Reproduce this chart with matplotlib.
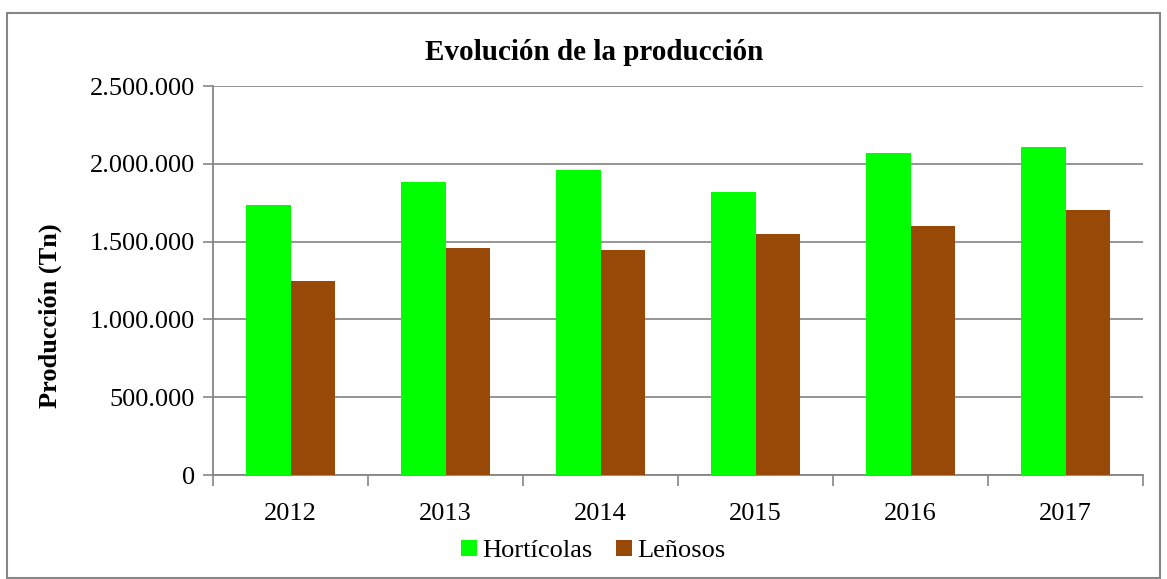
import matplotlib
matplotlib.use("Agg")
import matplotlib.pyplot as plt
from matplotlib.patches import Rectangle
from matplotlib.ticker import FuncFormatter, MultipleLocator
import numpy as np

years = ["2012", "2013", "2014", "2015", "2016", "2017"]
horticolas = [1733000, 1883000, 1963000, 1821000, 2072000, 2111000]
lenosos = [1246000, 1461000, 1448000, 1546000, 1602000, 1705000]

plt.rcParams['font.family'] = ['Liberation Serif', 'DejaVu Serif']

W, H = 1167, 579
fig = plt.figure(figsize=(W/100, H/100), dpi=100)
ax = fig.add_axes([213/W, 1-475/H, 930/W, 389/H])

x = np.arange(len(years))
bw = 0.285
ax.bar(x - bw/2, horticolas, bw, color='#00FF00', label='Hortícolas', zorder=3)
ax.bar(x + bw/2, lenosos, bw, color='#984807', label='Leñosos', zorder=3)

ax.set_xlim(-0.5, len(years) - 0.5)
ax.set_ylim(0, 2500000)
ax.yaxis.set_major_locator(MultipleLocator(500000))
ax.yaxis.set_major_formatter(FuncFormatter(lambda v, p: f"{int(v):,}".replace(",", ".")))
ax.set_xticks(x)
ax.set_xticklabels(years)
ax.set_xticks(np.arange(-0.5, len(years), 1), minor=True)
ax.tick_params(axis='x', which='major', length=0, labelsize=19, pad=20)
ax.tick_params(axis='x', which='minor', length=8, color='#868686', width=1.2, direction='out')
ax.tick_params(axis='y', length=7, color='#868686', width=1.2, direction='out', labelsize=19, pad=6)
ax.grid(axis='y', color='#8c8c8c', linewidth=1.3, zorder=0)
for s in ['top', 'right']:
    ax.spines[s].set_visible(False)
for s in ['left', 'bottom']:
    ax.spines[s].set_color('#868686')
    ax.spines[s].set_linewidth(1.3)

fig.text(50/W, 1-316/H, 'Producción (Tn)', fontsize=19, fontweight='bold',
         rotation=90, ha='center', va='center')
fig.text(594/W, 1-53/H, 'Evolución de la producción', fontsize=21, fontweight='bold',
         ha='center', va='center')

leg = fig.legend(loc='center', bbox_to_anchor=(593/W, 1-551/H), ncol=2, frameon=False,
                 prop={'family': 'Liberation Serif', 'size': 19},
                 handlelength=0.6, handleheight=0.6, handletextpad=0.2,
                 columnspacing=0.9)

fig.patches.append(Rectangle((7/W, 1-578/H), 1153/W, 565/H, transform=fig.transFigure,
                             fill=False, edgecolor='#868686', linewidth=1.5))

fig.savefig('out.png', dpi=100)
